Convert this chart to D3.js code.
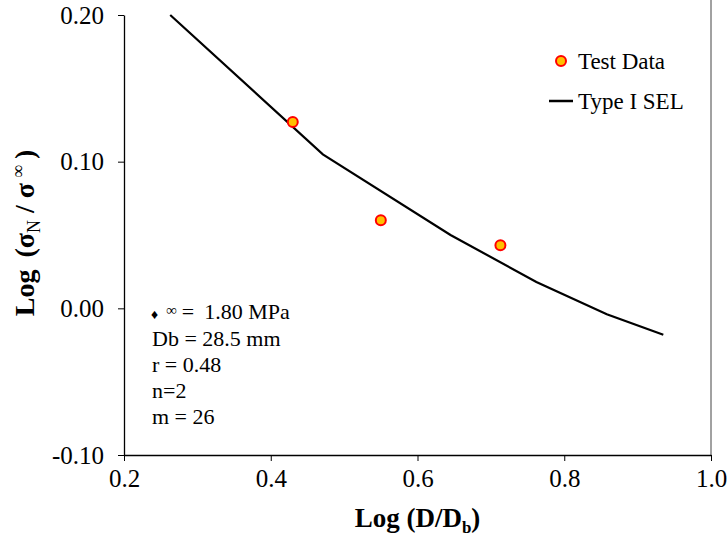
<!DOCTYPE html>
<html>
<head>
<meta charset="utf-8">
<script src="https://cdn.jsdelivr.net/npm/d3@7"></script>
<style>
  body { margin: 0; background: #fff; }
  svg { font-family: "Liberation Serif", "DejaVu Serif", serif; }
</style>
</head>
<body>
<svg id="chart" width="727" height="537"></svg>
<script>
// Test points
const aTestX = [0.430, 0.550, 0.713];
const aTestY = [0.127, 0.060, 0.043];

// Type I SEL curve
const aSelX = [0.263, 0.471, 0.645, 0.762, 0.858, 0.935];
const aSelY = [0.200, 0.105, 0.050, 0.018, -0.004, -0.018];

const aXTicks = [0.2, 0.4, 0.6, 0.8, 1.0];
const aYTicks = [-0.10, 0.00, 0.10, 0.20];

const aNotes = ['Db = 28.5 mm', 'r = 0.48', 'n=2', 'm = 26'];

const svg = d3.select('#chart');
const jPad = { l: 124, r: 711, t: 15, b: 455 };

const x = d3.scaleLinear().domain([0.2, 1.0]).range([jPad.l, jPad.r]);
const y = d3.scaleLinear().domain([-0.10, 0.20]).range([jPad.b, jPad.t]);

// right frame line
svg.append('line')
  .attr('x1', jPad.r).attr('x2', jPad.r)
  .attr('y1', 0).attr('y2', jPad.b)
  .attr('stroke', '#444').attr('stroke-width', 1);

// axes (plain hyphen for the minus sign, as in the original)
const fnFmt = f => d => d3.format(f)(d).replace('\u2212', '-');
const oXAxis = d3.axisBottom(x).tickValues(aXTicks).tickFormat(fnFmt('.1f')).tickSize(6).tickSizeOuter(0);
const oYAxis = d3.axisLeft(y).tickValues(aYTicks).tickFormat(fnFmt('.2f')).tickSize(6).tickSizeOuter(0);

const gx = svg.append('g').attr('transform', `translate(0,${jPad.b})`).call(oXAxis);
const gy = svg.append('g').attr('transform', `translate(${jPad.l},0)`).call(oYAxis);

[gx, gy].forEach(g => {
  g.select('.domain').attr('stroke', '#000').attr('stroke-width', 1.3);
  g.selectAll('.tick line').attr('stroke', '#000');
  g.selectAll('.tick text')
    .attr('font-family', '"Liberation Serif", serif')
    .attr('font-size', 25)
    .attr('fill', '#000');
});
gx.selectAll('.tick text').attr('y', 14).attr('dy', '0.71em');
gy.selectAll('.tick text').attr('x', -20);

// curve
const fnLine = d3.line().x(d => x(d[0])).y(d => y(d[1]));
svg.append('path')
  .datum(aSelX.map((v, i) => [v, aSelY[i]]))
  .attr('d', fnLine)
  .attr('fill', 'none')
  .attr('stroke', '#000')
  .attr('stroke-width', 2.2);

// test points
svg.selectAll('circle.pt')
  .data(aTestX.map((v, i) => [v, aTestY[i]]))
  .enter()
  .append('circle')
  .attr('class', 'pt')
  .attr('cx', d => x(d[0]))
  .attr('cy', d => y(d[1]))
  .attr('r', 5)
  .attr('fill', '#FFC000')
  .attr('stroke', '#FF0000')
  .attr('stroke-width', 2);

// legend
const gKey = svg.append('g').attr('font-size', 23);
gKey.append('circle').attr('cx', 561).attr('cy', 61).attr('r', 5)
  .attr('fill', '#FFC000').attr('stroke', '#FF0000').attr('stroke-width', 2);
gKey.append('text').attr('x', 578).attr('y', 69).attr('textLength', 87).text('Test Data');
gKey.append('line').attr('x1', 549).attr('x2', 573).attr('y1', 101).attr('y2', 101)
  .attr('stroke', '#000').attr('stroke-width', 2.5);
gKey.append('text').attr('x', 578).attr('y', 109).text('Type I SEL');

// notes
const gNote = svg.append('g').attr('font-size', 22);
const tFirst = gNote.append('text').attr('x', 151).attr('y', 319);
tFirst.append('tspan').attr('font-size', 14).text('\u2666');
tFirst.append('tspan').attr('dx', 8).attr('dy', -4).attr('font-size', 15).text('\u221E');
tFirst.append('tspan').attr('dy', 4).attr('dx', 5).text('=');
tFirst.append('tspan').attr('dx', 10).text('1.80 MPa');
gNote.selectAll('text.note')
  .data(aNotes)
  .enter()
  .append('text')
  .attr('class', 'note')
  .attr('x', 152)
  .attr('y', (d, i) => 346 + i * 26)
  .text(d => d);

// axis titles
const tX = svg.append('text')
  .attr('x', (jPad.l + jPad.r) / 2)
  .attr('y', 527)
  .attr('text-anchor', 'middle')
  .attr('font-size', 27)
  .attr('font-weight', 'bold');
tX.append('tspan').text('Log (D/D');
tX.append('tspan').attr('font-size', 17).attr('dy', 6).text('b');
tX.append('tspan').attr('dy', -6).text(')');

const tY = svg.append('text')
  .attr('transform', 'translate(34,233) rotate(-90)')
  .attr('text-anchor', 'middle')
  .attr('font-size', 28)
  .attr('font-weight', 'bold');
tY.append('tspan').text('Log');
tY.append('tspan').attr('dx', 12).text('(\u03C3');
tY.append('tspan').attr('font-size', 18).attr('font-weight', 'normal').attr('dy', 6).text('N');
tY.append('tspan').attr('dy', -6).attr('dx', 7).text('/');
tY.append('tspan').attr('dx', 7).text('\u03C3');
tY.append('tspan').attr('font-size', 18).attr('font-weight', 'normal').attr('dy', -10).attr('dx', 5).text('\u221E');
tY.append('tspan').attr('dy', 10).attr('dx', 6).text(')');
</script>
</body>
</html>
